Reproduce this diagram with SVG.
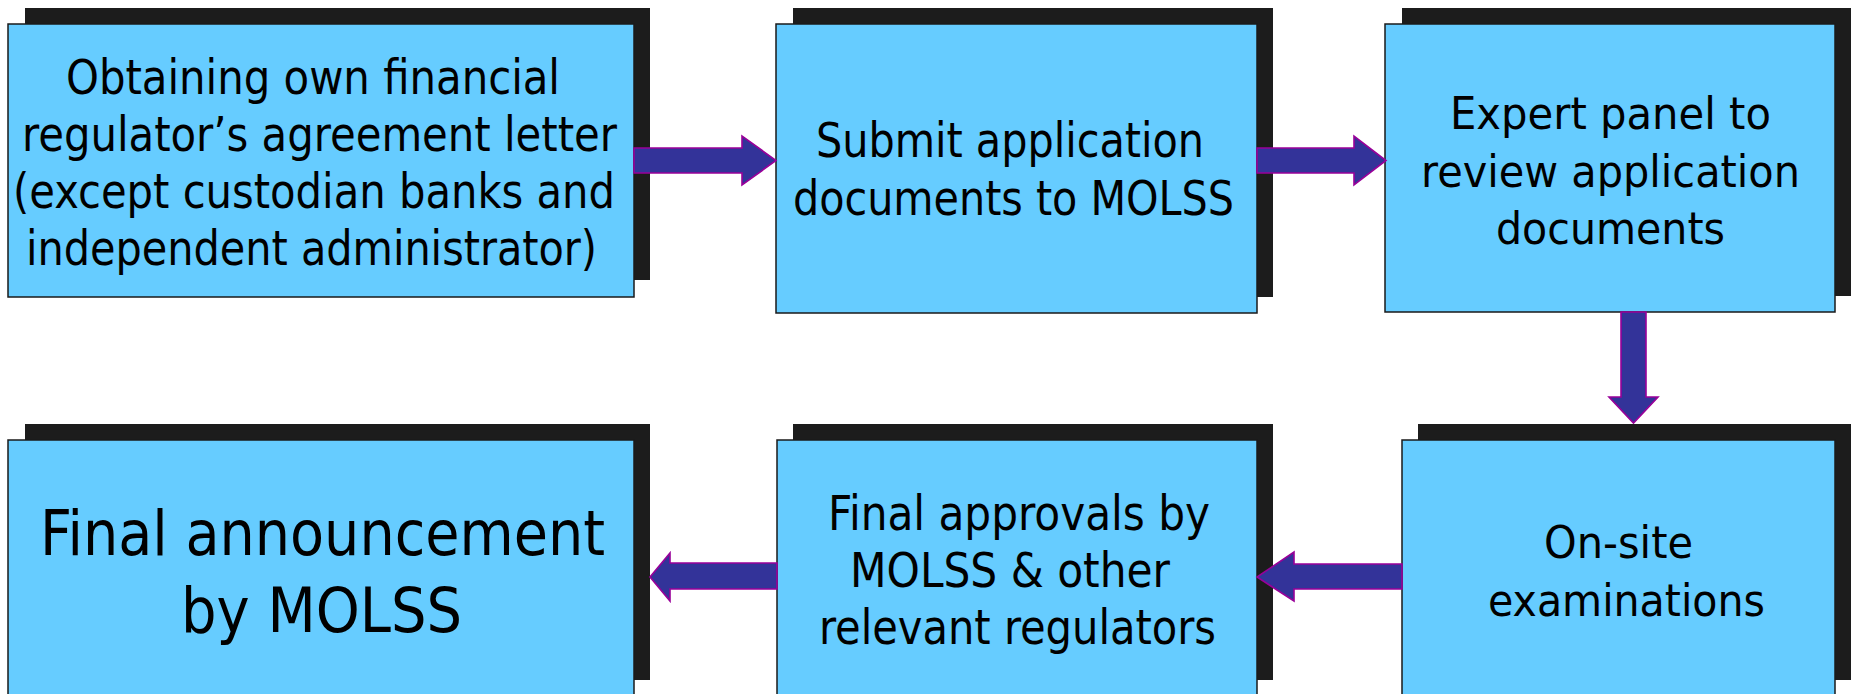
<svg xmlns="http://www.w3.org/2000/svg" width="1851" height="694" viewBox="0 0 1851 694">
<style>
.sh{fill:#1c1c1c}
.bx{fill:#66ccff;stroke:#1a1a1a;stroke-width:1.5}
.t{font-family:"DejaVu Sans Condensed","DejaVu Sans",sans-serif;font-size:48px;fill:#000}
.tw{font-family:"DejaVu Sans","Liberation Sans",sans-serif;font-size:44px;fill:#000}
.tb{font-family:"DejaVu Sans Condensed","DejaVu Sans",sans-serif;font-size:63px;fill:#000}
.ar{fill:#333399;stroke:#990099;stroke-width:1.6;stroke-linejoin:miter}
</style>
<rect width="1851" height="694" fill="#ffffff"/>
<g id="node1">
<rect class="sh" x="25" y="8" width="625" height="272"/>
<rect class="bx" x="8" y="24" width="626" height="273"/>
<text class="t" x="66" y="94" textLength="494" lengthAdjust="spacingAndGlyphs">Obtaining own financial</text>
<text class="t" x="22" y="151" textLength="595" lengthAdjust="spacingAndGlyphs">regulator’s agreement letter</text>
<text class="t" x="13" y="208" textLength="602" lengthAdjust="spacingAndGlyphs">(except custodian banks and</text>
<text class="t" x="26" y="265" textLength="571" lengthAdjust="spacingAndGlyphs">independent administrator)</text>
</g>
<g id="node2">
<rect class="sh" x="793" y="8" width="480" height="289"/>
<rect class="bx" x="776" y="24" width="481" height="289"/>
<text class="t" x="816" y="157" textLength="388" lengthAdjust="spacingAndGlyphs">Submit application</text>
<text class="t" x="793" y="215" textLength="441" lengthAdjust="spacingAndGlyphs">documents to MOLSS</text>
</g>
<g id="node3">
<rect class="sh" x="1402" y="8" width="449" height="288"/>
<rect class="bx" x="1385" y="24" width="450" height="288"/>
<text class="tw" x="1450" y="129" textLength="321" lengthAdjust="spacingAndGlyphs">Expert panel to</text>
<text class="tw" x="1421" y="187" textLength="379" lengthAdjust="spacingAndGlyphs">review application</text>
<text class="tw" x="1496" y="244" textLength="229" lengthAdjust="spacingAndGlyphs">documents</text>
</g>
<g id="node4">
<rect class="sh" x="25" y="424" width="625" height="256"/>
<rect class="bx" x="8" y="440" width="626" height="260"/>
<text class="tb" x="40" y="555" textLength="565" lengthAdjust="spacingAndGlyphs">Final announcement</text>
<text class="tb" x="181" y="632" textLength="281" lengthAdjust="spacingAndGlyphs">by MOLSS</text>
</g>
<g id="node5">
<rect class="sh" x="793" y="424" width="480" height="256"/>
<rect class="bx" x="777" y="440" width="480" height="260"/>
<text class="t" x="828" y="530" textLength="382" lengthAdjust="spacingAndGlyphs">Final approvals by</text>
<text class="t" x="850" y="587" textLength="320" lengthAdjust="spacingAndGlyphs">MOLSS &amp; other</text>
<text class="t" x="819" y="644" textLength="397" lengthAdjust="spacingAndGlyphs">relevant regulators</text>
</g>
<g id="node6">
<rect class="sh" x="1418" y="424" width="433" height="256"/>
<rect class="bx" x="1402" y="440" width="433" height="260"/>
<text class="tw" x="1544" y="558" textLength="149" lengthAdjust="spacingAndGlyphs">On-site</text>
<text class="tw" x="1488" y="616" textLength="277" lengthAdjust="spacingAndGlyphs">examinations</text>
</g>
<g id="connectors">
<polygon class="ar" points="634,148 742,148 742,136 776,160.5 742,185 742,173 634,173"/>
<polygon class="ar" points="1257,148 1354,148 1354,136 1386,160.5 1354,185 1354,173 1257,173"/>
<polygon class="ar" points="1621,312 1646,312 1646,397 1658,397 1633.5,423 1609,397 1621,397"/>
<polygon class="ar" points="1402,564 1294,564 1294,552 1257,577 1294,601 1294,589 1402,589"/>
<polygon class="ar" points="777,563 670,563 670,553 650,577 670,601 670,589 777,589"/>
</g>
</svg>
